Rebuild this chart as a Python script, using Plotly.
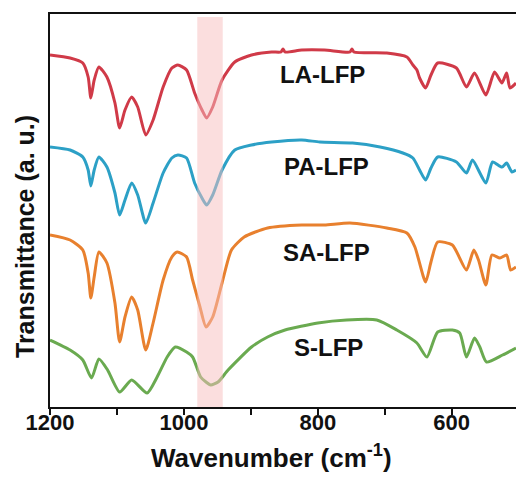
import plotly.graph_objects as go

# Wavenumber (cm-1) and transmittance (a.u., offset)
la_w = [1200, 1170, 1151, 1143, 1139, 1134, 1127, 1115, 1103, 1096, 1088, 1078, 1069, 1057, 1046, 1031, 1018, 1009,
        996, 984, 973, 966, 957, 943, 924, 899, 869, 855, 852, 849, 824, 790, 752, 749, 746, 697, 667, 658, 652, 648,
        639, 631, 621, 593, 578, 566, 549, 536, 525, 518, 513, 504]
la_t = [352, 349, 344, 330, 309, 327, 340, 330, 304, 279, 297, 310, 300, 272, 287, 320, 339, 342,
        337, 314, 297, 289, 300, 327, 345, 352, 355, 355, 358, 355, 357, 357, 355, 358, 355, 354, 350, 342, 337, 329,
        319, 332, 344, 339, 320, 334, 312, 335, 324, 334, 319, 324]

pa_w = [1200, 1170, 1151, 1143, 1139, 1134, 1127, 1115, 1103, 1096, 1088, 1078, 1069, 1057, 1046, 1031, 1018, 1009,
        996, 984, 973, 966, 957, 943, 924, 899, 869, 824, 797, 748, 707, 673, 658, 648, 639, 631, 621, 593, 578,
        569, 549, 539, 525, 518, 510, 504]
pa_t = [260, 257, 250, 237, 221, 237, 250, 240, 214, 192, 207, 224, 212, 184, 204, 234, 249, 252,
        249, 224, 209, 202, 212, 237, 257, 262, 265, 267, 265, 264, 260, 254, 249, 237, 227, 239, 250, 245, 234,
        247, 224, 245, 240, 244, 235, 237]

sa_w = [1200, 1170, 1151, 1143, 1139, 1134, 1127, 1115, 1103, 1096, 1088, 1078, 1069, 1057, 1046, 1031, 1018, 1010,
        996, 987, 976, 967, 957, 943, 929, 910, 875, 824, 790, 752, 697, 667, 655, 639, 631, 621, 599, 578, 567,
        560, 549, 540, 528, 518, 512, 504]
sa_t = [172, 167, 157, 134, 109, 130, 155, 144, 104, 65, 90, 110, 97, 57, 84, 127, 150, 155,
        150, 127, 100, 80, 90, 124, 157, 170, 179, 182, 182, 184, 179, 174, 160, 125, 145, 165, 162, 137, 157,
        147, 122, 152, 149, 152, 137, 140]

s_w = [1200, 1170, 1151, 1138, 1127, 1114, 1096, 1078, 1055, 1040, 1025, 1013, 996, 987, 975, 967, 960, 949,
       934, 899, 875, 849, 800, 757, 712, 682, 652, 637, 621, 599, 588, 578, 566, 558, 548, 524, 504]
s_t = [67, 57, 47, 29, 48, 37, 15, 27, 14, 30, 50, 60, 55, 50, 30, 25, 22, 25,
       37, 60, 70, 77, 84, 87, 87, 77, 64, 50, 75, 77, 74, 50, 69, 60, 45, 52, 59]

names = ["LA-LFP", "PA-LFP", "SA-LFP", "S-LFP"]
colors = ["#d03a48", "#2ca0c6", "#e8802e", "#6aaa50"]
band = [980, 942]
x_ticks = [1200, 1000, 800, 600]

FONT = "Liberation Sans, Arial"

fig = go.Figure()
for w, t, n, c in zip([la_w, pa_w, sa_w, s_w], [la_t, pa_t, sa_t, s_t], names, colors):
    fig.add_trace(go.Scatter(x=w, y=t, mode="lines", name=n,
                             line=dict(color=c, width=3, shape="spline", smoothing=0.6)))

fig.add_shape(type="rect", xref="x", yref="y", x0=band[0], x1=band[1], y0=0, y1=390,
              fillcolor="rgba(248,190,190,0.5)", line=dict(width=0), layer="above")

label_pos = [(793, 333), (787, 241), (787, 155), (784, 60)]
for n, (lx, ly) in zip(names, label_pos):
    fig.add_annotation(x=lx, y=ly, text=f"<b>{n}</b>", showarrow=False,
                       font=dict(size=24, color="#111", family=FONT))

fig.add_annotation(xref="paper", yref="paper", x=(271 - 50) / 466, y=(407 - 457) / 393,
                   xanchor="center", yanchor="middle",
                   text="<b>Wavenumber (cm<sup>-1</sup>)</b>", showarrow=False,
                   font=dict(size=26, color="#111", family=FONT))
fig.add_annotation(xref="paper", yref="paper", x=(25 - 50) / 466, y=(407 - 237) / 393,
                   xanchor="center", yanchor="middle",
                   text="<b>Transmittance (a. u.)</b>", showarrow=False, textangle=-90,
                   font=dict(size=25, color="#111", family=FONT))

fig.update_layout(
    width=516, height=477, showlegend=False,
    margin=dict(l=50, r=0, t=14, b=70, autoexpand=False),
    paper_bgcolor="white", plot_bgcolor="white",
    xaxis=dict(range=[1200, 504], tickvals=x_ticks, ticktext=[f"<b>{v}</b>" for v in x_ticks],
               ticks="outside", ticklen=6, tickwidth=2, automargin=False, ticklabelstandoff=-11,
               tickcolor="#111", showline=True, linecolor="#111", linewidth=2, mirror=True,
               showgrid=False, zeroline=False,
               tickfont=dict(size=22, color="#111", family=FONT),
               minor=dict(tickvals=[1100, 900, 700], ticks="outside", ticklen=6, tickwidth=2, tickcolor="#111")),
    yaxis=dict(range=[0, 393], showticklabels=False, ticks="", showline=True, linecolor="#111",
               linewidth=2, showgrid=False, zeroline=False, automargin=False),
)

fig.write_html("out.html", config={"displayModeBar": False},
               post_script="document.body.style.margin='0';document.body.style.overflow='hidden';")
